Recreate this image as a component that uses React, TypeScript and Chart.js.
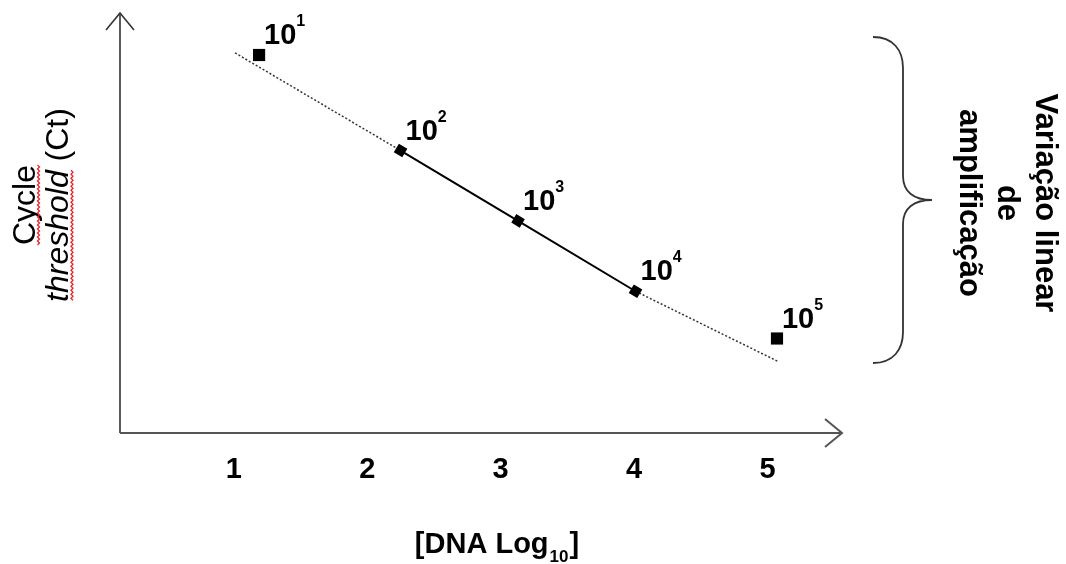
import { useEffect, useRef } from 'react';
import { Chart, registerables } from 'chart.js';

Chart.register(...registerables);

// ---- data ----
const dnaLog = [1.19, 2.25, 3.13, 4.01, 5.07];          // x of each standard
const ctValues = [36.0, 26.9, 20.2, 13.5, 9.0];          // Ct of each standard
const dilutionBase = ['10', '10', '10', '10', '10'];
const dilutionExp = ['1', '2', '3', '4', '5'];
const linearExpRange = ['2', '4'];                        // linear amplification range (10^2..10^4)
const trendX = [1.01, 2.25, 3.13, 4.01, 5.08];
const trendY = [36.2, 26.9, 20.2, 13.5, 6.8];
const xTickValues = [1, 2, 3, 4, 5];
const xTickLabels = ['1', '2', '3', '4', '5'];
const yTitleA = 'Cycle';
const yTitleB = 'threshold';
const yTitleC = ' (Ct)';
const xTitleMain = '[DNA Log';
const xTitleSub = '10';
const xTitleEnd = ']';
const braceLines = ['Variação linear', 'de', 'amplificação'];

const FONT = '"Liberation Sans", Arial, sans-serif';

const xLo = dnaLog[dilutionExp.indexOf(linearExpRange[0])];
const xHi = dnaLog[dilutionExp.indexOf(linearExpRange[1])];

const squiggle = (ctx: CanvasRenderingContext2D, x: number, y0: number, y1: number) => {
  ctx.save();
  ctx.strokeStyle = '#e8262a';
  ctx.lineWidth = 1.3;
  ctx.beginPath();
  let k = 0;
  for (let yy = y0; yy <= y1; yy += 2) {
    const xx = x + (k % 2 === 0 ? -1 : 1);
    if (k === 0) ctx.moveTo(xx, yy); else ctx.lineTo(xx, yy);
    k++;
  }
  ctx.stroke();
  ctx.restore();
};

const schematicPlugin = {
  id: 'schematic',
  afterDatasetsDraw(chart: any) {
    const { ctx, chartArea } = chart;
    const xs = chart.scales.x;
    const { left, right, top, bottom } = chartArea;
    ctx.save();

    // y axis with arrow
    ctx.strokeStyle = '#333';
    ctx.lineWidth = 1.6;
    ctx.beginPath();
    ctx.moveTo(left, bottom);
    ctx.lineTo(left, top);
    ctx.stroke();
    ctx.beginPath();
    ctx.moveTo(left - 14, top + 17);
    ctx.lineTo(left, top);
    ctx.lineTo(left + 14, top + 17);
    ctx.stroke();

    // x axis with arrow
    ctx.strokeStyle = '#555';
    ctx.lineWidth = 2;
    ctx.beginPath();
    ctx.moveTo(left, bottom);
    ctx.lineTo(right, bottom);
    ctx.stroke();
    ctx.beginPath();
    ctx.moveTo(right - 17, bottom - 14);
    ctx.lineTo(right, bottom);
    ctx.lineTo(right - 17, bottom + 14);
    ctx.stroke();

    // x tick labels
    ctx.fillStyle = '#000';
    ctx.font = `bold 29px ${FONT}`;
    ctx.textAlign = 'center';
    ctx.textBaseline = 'alphabetic';
    xTickValues.forEach((v, i) => {
      ctx.fillText(xTickLabels[i], xs.getPixelForValue(v), bottom + 45);
    });

    // x title with subscript
    ctx.textAlign = 'left';
    const mainFont = `bold 29px ${FONT}`;
    const subFont = `bold 17px ${FONT}`;
    ctx.font = mainFont;
    const w1 = ctx.measureText(xTitleMain).width;
    const w3 = ctx.measureText(xTitleEnd).width;
    ctx.font = subFont;
    const w2 = ctx.measureText(xTitleSub).width;
    const total = w1 + w2 + w3 + 2;
    let tx = 497 - total / 2;
    const tb = 553;
    ctx.font = mainFont;
    ctx.fillText(xTitleMain, tx, tb);
    tx += w1 + 1;
    ctx.font = subFont;
    ctx.fillText(xTitleSub, tx, tb + 9);
    tx += w2 + 1;
    ctx.font = mainFont;
    ctx.fillText(xTitleEnd, tx, tb);

    // point labels 10^n
    const meta = chart.getDatasetMeta(0);
    meta.data.forEach((pt: any, i: number) => {
      const bx = pt.x + 5;
      const by = pt.y - 11;
      ctx.font = `bold 29px ${FONT}`;
      ctx.fillText(dilutionBase[i], bx, by);
      const bw = ctx.measureText(dilutionBase[i]).width;
      ctx.font = `bold 16px ${FONT}`;
      ctx.fillText(dilutionExp[i], bx + bw, by - 18);
    });

    // y title (rotated)
    const yc = 205;
    ctx.save();
    ctx.translate(35, yc);
    ctx.rotate(-Math.PI / 2);
    ctx.font = `32px ${FONT}`;
    ctx.textAlign = 'center';
    ctx.fillText(yTitleA, 0, 0);
    ctx.restore();

    ctx.save();
    ctx.translate(68, yc);
    ctx.rotate(-Math.PI / 2);
    ctx.textAlign = 'left';
    const itFont = `italic 32px ${FONT}`;
    const rgFont = `32px ${FONT}`;
    ctx.font = itFont;
    const wb = ctx.measureText(yTitleB).width;
    ctx.font = rgFont;
    const wc = ctx.measureText(yTitleC).width;
    const sx = -(wb + wc) / 2;
    ctx.font = itFont;
    ctx.fillText(yTitleB, sx, 0);
    ctx.font = rgFont;
    ctx.fillText(yTitleC, sx + wb, 0);
    ctx.restore();

    ctx.font = `32px ${FONT}`;
    const wa = ctx.measureText(yTitleA).width;
    squiggle(ctx, 38.5, yc - wa / 2, yc + wa / 2);
    squiggle(ctx, 72, yc - (wb + wc) / 2 + wc, yc + (wb + wc) / 2);

    // brace
    ctx.strokeStyle = '#333';
    ctx.lineWidth = 1.8;
    ctx.beginPath();
    ctx.moveTo(873, 37);
    ctx.bezierCurveTo(893, 37, 903, 50, 903, 68);
    ctx.lineTo(903, 176);
    ctx.bezierCurveTo(903, 192, 914, 200, 932, 200);
    ctx.bezierCurveTo(914, 200, 903, 208, 903, 224);
    ctx.lineTo(903, 332);
    ctx.bezierCurveTo(903, 350, 893, 363, 873, 363);
    ctx.stroke();

    // brace text (rotated clockwise)
    ctx.font = `bold 31px ${FONT}`;
    ctx.textAlign = 'center';
    braceLines.forEach((line, i) => {
      ctx.save();
      ctx.translate(1036 - i * 38, 203);
      ctx.rotate(Math.PI / 2);
      ctx.fillText(line, 0, 0);
      ctx.restore();
    });

    ctx.restore();
  },
};

export default function App() {
  const ref = useRef<HTMLCanvasElement>(null);
  useEffect(() => {
    document.body.style.margin = '0';
    const chart = new Chart(ref.current as HTMLCanvasElement, {
      type: 'scatter',
      data: {
        datasets: [
          {
            label: 'Padrões',
            data: dnaLog.map((x, i) => ({ x, y: ctValues[i] })),
            pointStyle: 'rect',
            pointRadius: (c: any) => {
              const x = dnaLog[c.dataIndex];
              return x >= xLo && x <= xHi ? 7 : 8.6;
            },
            pointRotation: (c: any) => {
              const x = dnaLog[c.dataIndex];
              return x >= xLo && x <= xHi ? 31 : 0;
            },
            backgroundColor: '#000',
            borderColor: '#000',
            borderWidth: 0,
            order: 0,
            showLine: false,
          } as any,
          {
            label: 'Regressão',
            data: trendX.map((x, i) => ({ x, y: trendY[i] })),
            showLine: true,
            pointRadius: 0,
            borderColor: '#000',
            borderWidth: 2,
            tension: 0,
            fill: false,
            order: 1,
            segment: {
              borderDash: (c: any) => {
                const a = trendX[c.p0DataIndex];
                const b = trendX[c.p1DataIndex];
                return a >= xLo && b <= xHi ? [] : [2, 2];
              },
              borderWidth: (c: any) => {
                const a = trendX[c.p0DataIndex];
                const b = trendX[c.p1DataIndex];
                return a >= xLo && b <= xHi ? 2 : 1.5;
              },
              borderColor: (c: any) => {
                const a = trendX[c.p0DataIndex];
                const b = trendX[c.p1DataIndex];
                return a >= xLo && b <= xHi ? '#000' : '#333';
              },
            },
          } as any,
        ],
      },
      options: {
        animation: false,
        responsive: false,
        events: [],
        layout: { padding: { left: 120, right: 224, top: 13, bottom: 131 } },
        plugins: { legend: { display: false }, tooltip: { enabled: false } },
        scales: {
          x: { type: 'linear', min: 0.148, max: 5.557, display: false },
          y: { type: 'linear', min: 0, max: 40, display: false },
        },
      },
      plugins: [schematicPlugin],
    });
    return () => chart.destroy();
  }, []);
  return (
    <canvas
      ref={ref}
      width={1066}
      height={564}
      style={{ display: 'block', width: 1066, height: 564 }}
    />
  );
}
